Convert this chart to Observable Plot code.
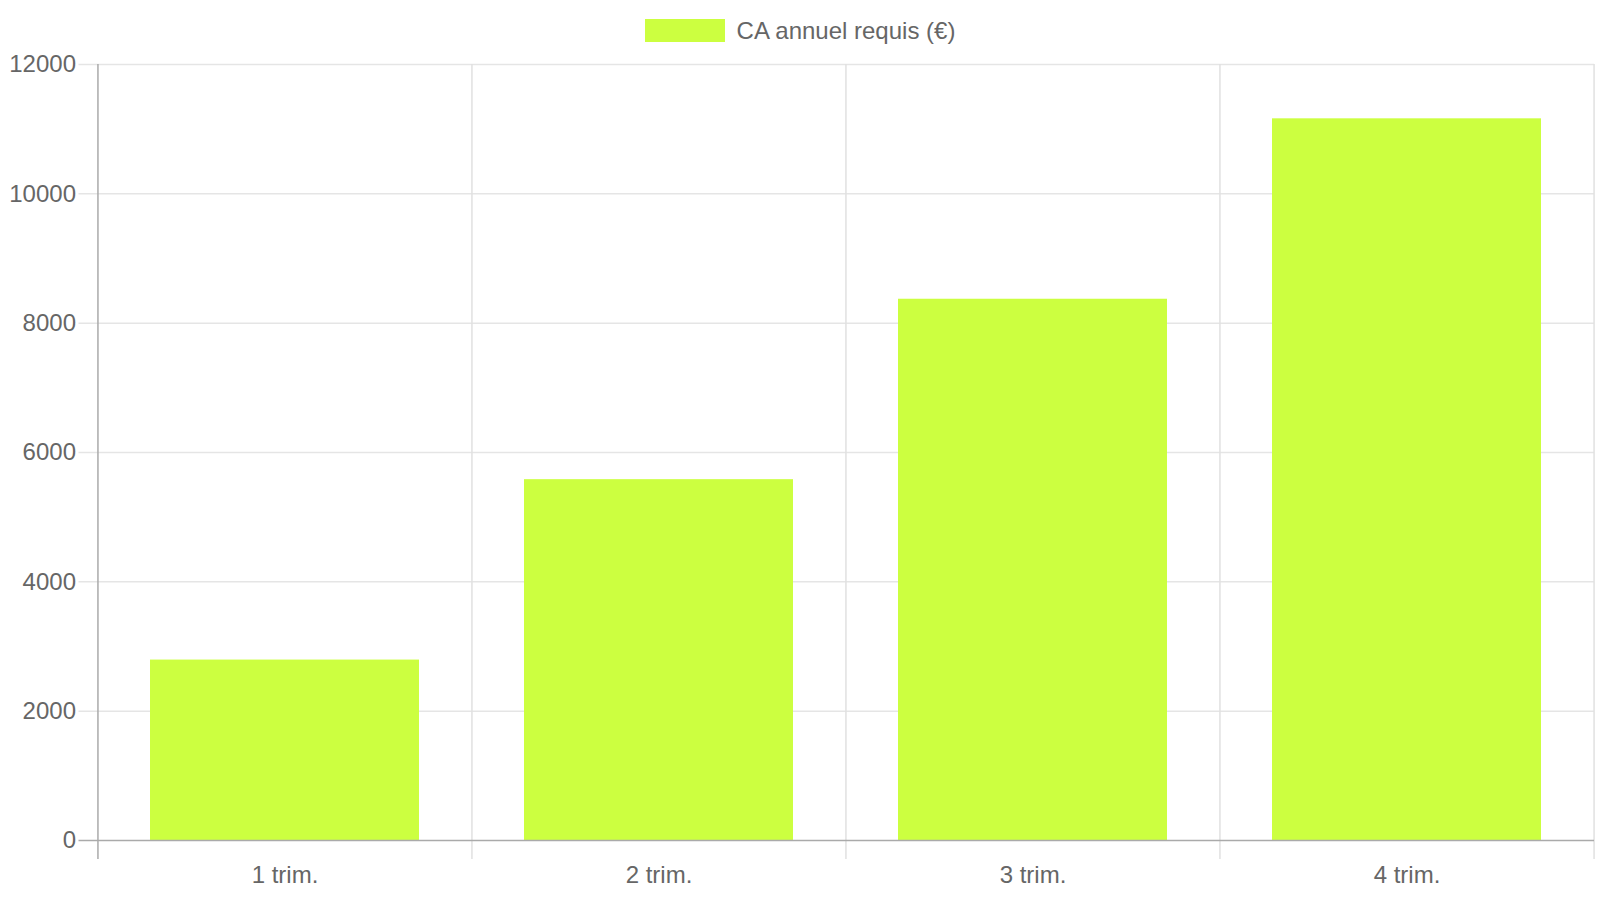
<!DOCTYPE html>
<html>
<head>
<meta charset="utf-8">
<script src="https://cdn.jsdelivr.net/npm/d3@7"></script>
<script src="https://cdn.jsdelivr.net/npm/@observablehq/plot@0.6"></script>
<style>
  html, body { margin: 0; padding: 0; background: #fff; }
  body { width: 1600px; height: 900px; overflow: hidden; font-family: "Liberation Sans", Arial, sans-serif; }
  #legend { height: 44px; box-sizing: border-box; padding-top: 19px; display: flex; justify-content: center; align-items: flex-start; }
  #legend .sw { width: 80px; height: 23px; background: #ccff40; margin-right: 12px; }
  #legend .lab { font-size: 24px; color: #666; line-height: 23px; }
  svg { display: block; }
</style>
</head>
<body>
<div id="legend"><span class="sw"></span><span class="lab">CA annuel requis (€)</span></div>
<div id="chart"></div>
<script>
const categories = ["1 trim.", "2 trim.", "3 trim.", "4 trim."];
const values = [2790, 5580, 8370, 11160];
const yTicks = [0, 2000, 4000, 6000, 8000, 10000, 12000];
const seriesLabel = "CA annuel requis (€)";
const barColor = "#ccff40";

const data = categories.map((c, i) => ({cat: c, value: values[i]}));

const width = 1600, height = 856;
const marginLeft = 97.5, marginRight = 6, marginTop = 20, marginBottom = 60;
const step = (width - marginLeft - marginRight) / categories.length;

const chart = Plot.plot({
  width, height, marginLeft, marginRight, marginTop, marginBottom,
  style: {fontFamily: '"Liberation Sans", Arial, sans-serif', fontSize: "24px", color: "#666", background: "#fff"},
  x: {domain: categories, paddingInner: 0.28, paddingOuter: 0.14, label: null},
  y: {domain: [0, 12000], label: null},
  marks: [
    Plot.ruleY(yTicks.filter(d => d > 0), {y: d => d, stroke: "#e5e5e5", strokeWidth: 1.5, insetLeft: -19}),
    Plot.ruleX(categories.slice(1), {x: d => d, dx: -step / 2, y1: 12000, y2: 0, stroke: "#e0e0e0", strokeWidth: 1.5, insetBottom: -19}),
    Plot.ruleX([categories[categories.length - 1]], {x: d => d, dx: step / 2, y1: 12000, y2: 0, stroke: "#e0e0e0", strokeWidth: 1.5, insetBottom: -19}),
    Plot.barY(data, {x: "cat", y: "value", fill: barColor}),
    Plot.ruleY([0], {stroke: "#aaa", strokeWidth: 1.5, insetLeft: -19}),
    Plot.ruleX([categories[0]], {x: d => d, dx: -step / 2, y1: 12000, y2: 0, stroke: "#aaa", strokeWidth: 1.5, insetBottom: -19}),
    Plot.axisY(yTicks, {tickSize: 0, tickPadding: 22, fill: "#666", fontSize: 24, label: null, tickFormat: d => String(d)}),
    Plot.axisX({tickSize: 0, tickPadding: 25, fill: "#666", fontSize: 24, label: null})
  ]
});
document.getElementById("chart").appendChild(chart);
</script>
</body>
</html>
